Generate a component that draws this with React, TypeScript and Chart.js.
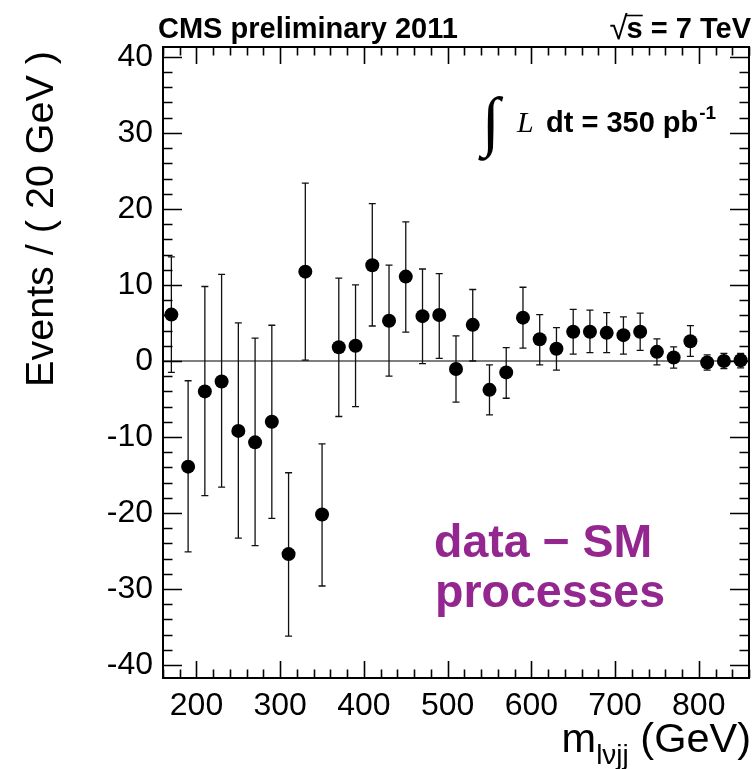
import React, { useEffect, useRef } from "react";
import { Chart, registerables } from "chart.js";

Chart.register(...registerables);

// ---- data ----
const massBins = [170, 190, 210, 230, 250, 270, 290, 310, 330, 350, 370, 390, 410, 430, 450, 470, 490, 510, 530, 550, 570, 590, 610, 630, 650, 670, 690, 710, 730, 750, 770, 790, 810, 830, 850];
const eventDiff = [6.1, -13.9, -4.0, -2.7, -9.2, -10.7, -8.0, -25.4, 11.75, -20.2, 1.8, 2.0, 12.6, 5.3, 11.1, 5.9, 6.05, -1.05, 4.75, -3.8, -1.5, 5.7, 2.85, 1.6, 3.85, 3.85, 3.7, 3.4, 3.85, 1.2, 0.45, 2.6, -0.2, 0.0, 0.1];
const errUp = [7.6, 11.3, 13.8, 14.1, 14.2, 13.7, 12.7, 10.7, 11.65, 9.3, 9.1, 8.0, 8.1, 7.3, 7.2, 6.2, 5.45, 4.35, 4.65, 3.3, 3.25, 4.0, 3.25, 2.8, 2.95, 2.85, 2.65, 2.4, 2.45, 1.7, 1.4, 2.05, 1.0, 1.0, 0.9];
const errDown = [7.6, 11.2, 13.7, 13.9, 14.1, 13.6, 12.7, 10.8, 11.65, 9.4, 9.1, 8.0, 8.0, 7.3, 7.3, 6.25, 5.7, 4.35, 4.75, 3.3, 3.4, 4.0, 3.35, 2.8, 2.95, 2.75, 2.6, 2.5, 2.45, 1.7, 1.4, 2.0, 1.0, 1.0, 1.0];

const xTickValues = [200, 300, 400, 500, 600, 700, 800];
const yTickValues = [-40, -30, -20, -10, 0, 10, 20, 30, 40];

const X_MIN = 160;
const X_MAX = 860;
const Y_MIN = -41.7;
const Y_MAX = 41.3;
const X_MINOR_STEP = 20;
const Y_MINOR_STEP = 2;

const headerLeft = "CMS preliminary 2011";
const headerRight = "s = 7 TeV";
const lumiText = "dt = 350 pb";
const lumiExp = "-1";
const yTitle = "Events / ( 20 GeV )";
const xTitleMain = "m";
const xTitleSub = "lνjj";
const xTitleUnit = " (GeV)";
const noteLines = ["data − SM", "processes"];

const SANS = '"Liberation Sans", Arial, Helvetica, sans-serif';
const SERIF = '"Liberation Serif", "DejaVu Serif", "Times New Roman", serif';
const PURPLE = "#93278f";

const rootStylePlugin = {
  id: "rootStyle",
  beforeDatasetsDraw(chart: any) {
    const { ctx, chartArea: a } = chart;
    const x = chart.scales.x;
    const y = chart.scales.y;
    ctx.save();
    // zero line
    const y0 = y.getPixelForValue(0);
    ctx.strokeStyle = "#555555";
    ctx.lineWidth = 1.5;
    ctx.beginPath();
    ctx.moveTo(a.left, y0);
    ctx.lineTo(a.right, y0);
    ctx.stroke();
    // error bars
    ctx.strokeStyle = "#111111";
    ctx.lineWidth = 1.3;
    const cap = 3.5;
    massBins.forEach((m, i) => {
      const px = x.getPixelForValue(m);
      const top = y.getPixelForValue(eventDiff[i] + errUp[i]);
      const bot = y.getPixelForValue(eventDiff[i] - errDown[i]);
      ctx.beginPath();
      ctx.moveTo(px, top);
      ctx.lineTo(px, bot);
      ctx.moveTo(px - cap, top);
      ctx.lineTo(px + cap, top);
      ctx.moveTo(px - cap, bot);
      ctx.lineTo(px + cap, bot);
      ctx.stroke();
    });
    ctx.restore();
  },
  afterDatasetsDraw(chart: any) {
    const { ctx, chartArea: a } = chart;
    const x = chart.scales.x;
    const y = chart.scales.y;
    ctx.save();
    ctx.strokeStyle = "#000000";
    ctx.lineWidth = 2;
    ctx.strokeRect(a.left, a.top, a.right - a.left, a.bottom - a.top);
    ctx.lineWidth = 1.6;
    ctx.beginPath();
    // y ticks (left and right, inside)
    for (let v = -40; v <= 40 + 1e-9; v += Y_MINOR_STEP) {
      const py = Math.round(y.getPixelForValue(v)) + 0.5;
      const major = Math.abs(v % 10) < 1e-9;
      const len = major ? 19 : 9.5;
      ctx.moveTo(a.left, py);
      ctx.lineTo(a.left + len, py);
      ctx.moveTo(a.right, py);
      ctx.lineTo(a.right - len, py);
    }
    // x ticks (bottom and top, inside)
    for (let v = X_MIN; v <= X_MAX + 1e-9; v += X_MINOR_STEP) {
      const px = Math.round(x.getPixelForValue(v)) + 0.5;
      const major = Math.abs(v % 100) < 1e-9;
      const len = major ? 17 : 8.5;
      ctx.moveTo(px, a.bottom);
      ctx.lineTo(px, a.bottom - len);
      ctx.moveTo(px, a.top);
      ctx.lineTo(px, a.top + len);
    }
    ctx.stroke();
    ctx.restore();
  },
  afterDraw(chart: any) {
    const { ctx } = chart;
    ctx.save();
    ctx.fillStyle = "#000000";
    ctx.textBaseline = "alphabetic";

    // header left
    ctx.font = `bold 29px ${SANS}`;
    ctx.textAlign = "left";
    ctx.fillText(headerLeft, 158, 38);

    // header right: sqrt(s) = 7 TeV
    const wRight = ctx.measureText(headerRight).width;
    const sW = ctx.measureText("s").width;
    const startX = 751 - wRight;
    ctx.fillText(headerRight, startX, 38);
    ctx.font = `33px ${SANS}`;
    const rootW = ctx.measureText("√").width;
    ctx.fillText("√", startX - rootW + 1, 39);
    ctx.lineWidth = 1.6;
    ctx.strokeStyle = "#000";
    ctx.beginPath();
    ctx.moveTo(startX - 1, 15.5);
    ctx.lineTo(startX + sW, 15.5);
    ctx.stroke();

    // luminosity
    ctx.font = `bold 66px ${SERIF}`;
    ctx.fillText("∫", 482, 143);
    ctx.font = `italic 30px ${SERIF}`;
    ctx.fillText("L", 517, 132);
    ctx.font = `bold 29px ${SANS}`;
    ctx.fillText(lumiText, 546, 132);
    const lw = ctx.measureText(lumiText).width;
    ctx.font = `bold 19px ${SANS}`;
    ctx.fillText(lumiExp, 546 + lw + 1, 119);

    // purple note
    ctx.fillStyle = PURPLE;
    ctx.font = `bold 46.5px ${SANS}`;
    ctx.fillText(noteLines[0], 434, 557);
    ctx.fillText(noteLines[1], 435, 607);

    // y title
    ctx.fillStyle = "#000";
    ctx.save();
    ctx.translate(53, 51);
    ctx.rotate(-Math.PI / 2);
    ctx.font = `39.5px ${SANS}`;
    ctx.textAlign = "right";
    ctx.fillText(yTitle, 0, 0);
    ctx.restore();

    // x title with subscript
    ctx.textAlign = "left";
    ctx.font = `41.5px ${SANS}`;
    const wm = ctx.measureText(xTitleMain).width;
    const wu = ctx.measureText(xTitleUnit).width;
    ctx.font = `28px ${SANS}`;
    const ws = ctx.measureText(xTitleSub).width;
    const total = wm + ws + wu;
    const x0 = 751 - total;
    ctx.font = `41.5px ${SANS}`;
    ctx.fillText(xTitleMain, x0, 752);
    ctx.fillText(xTitleUnit, x0 + wm + ws, 752);
    ctx.font = `28px ${SANS}`;
    ctx.fillText(xTitleSub, x0 + wm, 764);

    ctx.restore();
  },
};

export default function App() {
  const canvasRef = useRef<HTMLCanvasElement | null>(null);

  useEffect(() => {
    const canvas = canvasRef.current;
    if (!canvas) return;
    const points = massBins.map((m, i) => ({ x: m, y: eventDiff[i] }));
    const chart = new Chart(canvas, {
      type: "scatter",
      data: {
        datasets: [
          {
            label: "data − SM",
            data: points,
            backgroundColor: "#000000",
            borderColor: "#000000",
            borderWidth: 0,
            pointRadius: 7,
            pointHoverRadius: 7,
          },
        ],
      },
      options: {
        animation: false,
        responsive: false,
        devicePixelRatio: 1,
        events: [],
        layout: { padding: { top: 47, right: 3, left: 0, bottom: 0 } },
        plugins: {
          legend: { display: false },
          tooltip: { enabled: false },
          title: { display: false },
        },
        scales: {
          x: {
            type: "linear",
            min: X_MIN,
            max: X_MAX,
            grid: { display: false, drawTicks: false },
            border: { display: false },
            afterBuildTicks: (s: any) => {
              s.ticks = xTickValues.map((v) => ({ value: v }));
            },
            afterFit: (s: any) => {
              s.height = 91;
            },
            ticks: {
              autoSkip: false,
              maxRotation: 0,
              padding: 9,
              color: "#000000",
              font: { family: SANS, size: 32 },
              callback: (v: any) => String(v),
            },
          },
          y: {
            type: "linear",
            min: Y_MIN,
            max: Y_MAX,
            grid: { display: false, drawTicks: false },
            border: { display: false },
            afterBuildTicks: (s: any) => {
              s.ticks = yTickValues.map((v) => ({ value: v }));
            },
            afterFit: (s: any) => {
              s.width = 163;
            },
            ticks: {
              autoSkip: false,
              padding: 10,
              color: "#000000",
              font: { family: SANS, size: 32 },
              callback: (v: any) => String(v),
            },
          },
        },
      },
      plugins: [rootStylePlugin],
    });
    return () => chart.destroy();
  }, []);

  return (
    <div style={{ position: "absolute", left: 0, top: 0, width: 756, height: 769, background: "#ffffff" }}>
      <canvas ref={canvasRef} width={756} height={769} style={{ display: "block" }} />
    </div>
  );
}
